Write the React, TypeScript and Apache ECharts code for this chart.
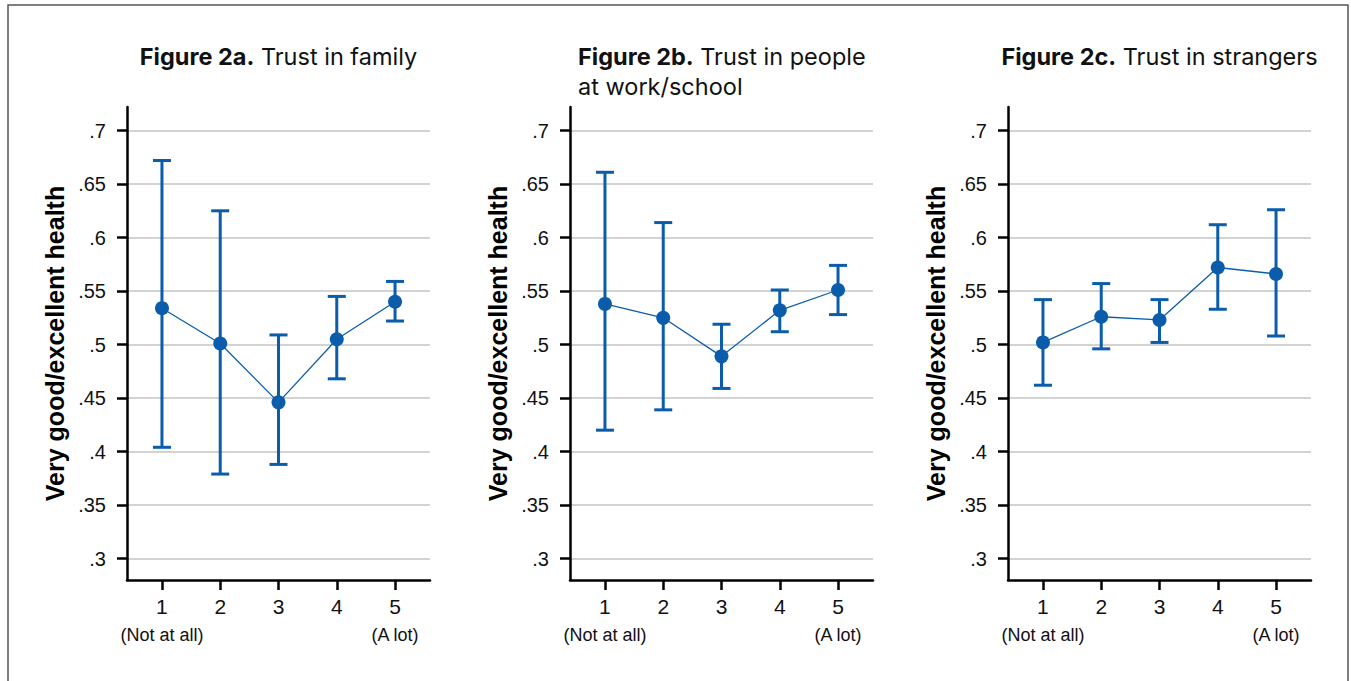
import React, { useEffect, useRef } from "react";
import * as echarts from "echarts";

const categories = [1, 2, 3, 4, 5];
const yTicks = [0.3, 0.35, 0.4, 0.45, 0.5, 0.55, 0.6, 0.65, 0.7];

const familyMean = [0.534, 0.501, 0.446, 0.505, 0.540];
const familyLow = [0.404, 0.379, 0.388, 0.468, 0.522];
const familyHigh = [0.672, 0.625, 0.509, 0.545, 0.559];

const workMean = [0.538, 0.525, 0.489, 0.532, 0.551];
const workLow = [0.420, 0.439, 0.459, 0.512, 0.528];
const workHigh = [0.661, 0.614, 0.519, 0.551, 0.574];

const strangersMean = [0.502, 0.526, 0.523, 0.572, 0.566];
const strangersLow = [0.462, 0.496, 0.502, 0.533, 0.508];
const strangersHigh = [0.542, 0.557, 0.542, 0.612, 0.626];

const titles = [
  { bold: "Figure 2a.", rest: " Trust in family" },
  { bold: "Figure 2b.", rest: " Trust in people\nat work/school" },
  { bold: "Figure 2c.", rest: " Trust in strangers" },
];
const yName = "Very good/excellent health";
const xSubLabels: Record<number, string> = { 1: "(Not at all)", 5: "(A lot)" };

const BLUE = "#0b5dab";
const AXIS_FONT = "'Liberation Sans', Arial, sans-serif";
const TITLE_FONT = "Inter, 'Noto Sans', sans-serif";

export default function App() {
  const ref = useRef<HTMLDivElement>(null);
  useEffect(() => {
    if (!ref.current) return;
    const chart = echarts.init(ref.current, null, { renderer: "svg" });
    const panels = [
      { mean: familyMean, low: familyLow, high: familyHigh },
      { mean: workMean, low: workLow, high: workHigh },
      { mean: strangersMean, low: strangersLow, high: strangersHigh },
    ];
    const lefts = [127, 570, 1008];
    const gridW = 303;
    const grids = lefts.map((l) => ({ left: l, top: 107, width: gridW, height: 473 }));
    const xAxes = lefts.map((_, i) => ({
      type: "value",
      gridIndex: i,
      min: 0.4,
      max: 5.6,
      axisLine: { show: true, lineStyle: { color: "#000", width: 2.5 } },
      axisTick: { show: true, customValues: categories, length: 10, lineStyle: { color: "#000", width: 2.5 } },
      axisLabel: {
        customValues: categories,
        margin: 13,
        fontSize: 21,
        formatter: (v: number) => {
          const sub = xSubLabels[Math.round(v)];
          return `{n|${Math.round(v)}}` + (sub ? `\n{s|${sub}}` : "\n{s| }");
        },
        rich: {
          n: { fontSize: 21, lineHeight: 26, color: "#111", fontFamily: AXIS_FONT, align: "center" },
          s: { fontSize: 18, lineHeight: 32, color: "#111", fontFamily: AXIS_FONT, align: "center" },
        },
      },
      splitLine: { show: false },
    }));
    const yAxes = lefts.map((_, i) => ({
      type: "value",
      gridIndex: i,
      min: 0.28,
      max: 0.722,
      name: yName,
      nameLocation: "middle",
      nameRotate: 90,
      nameGap: 60,
      nameTextStyle: { fontSize: 25, fontWeight: "bold", color: "#000", fontFamily: AXIS_FONT },
      axisLine: { show: true, lineStyle: { color: "#000", width: 2.5 } },
      axisTick: { show: true, customValues: yTicks, length: 10, lineStyle: { color: "#000", width: 2.5 } },
      axisLabel: {
        customValues: yTicks,
        margin: 21,
        fontSize: 20,
        color: "#111",
        fontFamily: AXIS_FONT,
        formatter: (v: number) => String(+v.toFixed(2)).replace(/^0/, ""),
      },
      splitLine: { show: true, lineStyle: { color: "#c4c4c4", width: 1.5 } },
    }));
    const series: any[] = [];
    panels.forEach((p, i) => {
      series.push({
        type: "custom",
        xAxisIndex: i,
        yAxisIndex: i,
        data: categories.map((c, k) => [c, p.low[k], p.high[k]]),
        encode: { x: 0, y: [1, 2] },
        z: 2,
        renderItem: (params: any, api: any) => {
          const x = api.value(0);
          const lo = api.coord([x, api.value(1)]);
          const hi = api.coord([x, api.value(2)]);
          const half = 9;
          const style = { stroke: BLUE, lineWidth: 3, fill: "none" };
          return {
            type: "group",
            children: [
              { type: "line", shape: { x1: lo[0], y1: lo[1], x2: hi[0], y2: hi[1] }, style },
              { type: "line", shape: { x1: lo[0] - half, y1: lo[1], x2: lo[0] + half, y2: lo[1] }, style },
              { type: "line", shape: { x1: hi[0] - half, y1: hi[1], x2: hi[0] + half, y2: hi[1] }, style },
            ],
          };
        },
      });
      series.push({
        type: "line",
        xAxisIndex: i,
        yAxisIndex: i,
        data: categories.map((c, k) => [c, p.mean[k]]),
        symbol: "circle",
        symbolSize: 14,
        itemStyle: { color: BLUE },
        lineStyle: { color: BLUE, width: 1.3 },
        z: 3,
      });
    });
    const titleRich = {
      b: { fontWeight: "bold", fontSize: 23.5, fontFamily: TITLE_FONT, color: "#111", lineHeight: 30 },
    };
    const titleOpts = [
      { left: lefts[0] + gridW / 2, textAlign: "center" },
      { left: 578, textAlign: "left" },
      { left: lefts[2] + gridW / 2, textAlign: "center" },
    ].map((t, i) => ({
      text: `{b|${titles[i].bold}}${titles[i].rest}`,
      left: t.left,
      top: 41,
      textAlign: t.textAlign,
      padding: 0,
      textStyle: {
        fontSize: 23.5,
        fontWeight: "normal",
        fontFamily: TITLE_FONT,
        color: "#111",
        lineHeight: 30,
        rich: titleRich,
      },
    }));
    chart.setOption({
      animation: false,
      backgroundColor: "#fff",
      title: titleOpts,
      grid: grids,
      xAxis: xAxes,
      yAxis: yAxes,
      series,
      graphic: [
        {
          type: "rect",
          shape: { x: 8, y: 5, width: 1340, height: 700 },
          style: { fill: "none", stroke: "#555", lineWidth: 1.5 },
          silent: true,
        },
      ],
    });
    return () => chart.dispose();
  }, []);
  return (
    <div
      ref={ref}
      style={{ position: "fixed", left: 0, top: 0, width: 1351, height: 681, background: "#fff" }}
    />
  );
}
